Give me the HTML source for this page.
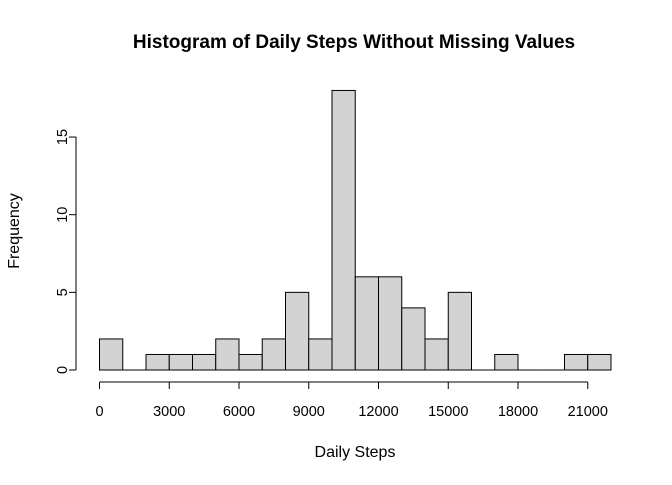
<!DOCTYPE html>
<html><head><meta charset="utf-8"><style>
body{margin:0;background:#fff;}
svg text{font-family:"Liberation Sans",Arial,sans-serif;fill:#000;}
</style></head><body>
<svg id="chart" width="672" height="480" viewBox="0 0 672 480">
<text x="354" y="48" text-anchor="middle" font-size="19" font-weight="bold">Histogram of Daily Steps Without Missing Values</text>
<text x="355" y="457" text-anchor="middle" font-size="16">Daily Steps</text>
<text x="0" y="0" transform="translate(19,231) rotate(-90)" text-anchor="middle" font-size="16">Frequency</text>
<g id="bars"></g><g id="axes"></g>
</svg>
<script>
const binStarts=[0,1000,2000,3000,4000,5000,6000,7000,8000,9000,10000,11000,12000,13000,14000,15000,16000,17000,18000,19000,20000,21000];
const binWidth=1000;
const counts=[2,0,1,1,1,2,1,2,5,2,18,6,6,4,2,5,0,1,0,0,1,1];
const xTicks=[0,3000,6000,9000,12000,15000,18000,21000];
const yTicks=[0,5,10,15];
const NS="http://www.w3.org/2000/svg";
function x(v){return 99.5+v*0.02325;}
function y(v){return 370-v*15.53;}
const bars=document.getElementById('bars'),axes=document.getElementById('axes');
function mk(tag,attrs,parent){const e=document.createElementNS(NS,tag);for(const k in attrs)e.setAttribute(k,attrs[k]);parent.appendChild(e);return e;}
binStarts.forEach((b,i)=>{
 let r;
 if(counts[i]===0){
  r=mk('line',{x1:x(b),x2:x(b+binWidth),y1:y(0),y2:y(0),stroke:'#000','stroke-width':1},bars);
 } else {
  r=mk('rect',{x:x(b),y:y(counts[i]),width:x(b+binWidth)-x(b),height:y(0)-y(counts[i]),fill:'#d3d3d3',stroke:'#000','stroke-width':1},bars);
 }
 
 
});
const xl=mk('line',{x1:x(xTicks[0]),x2:x(xTicks[xTicks.length-1]),y1:382,y2:382,stroke:'#000'},axes);


xTicks.forEach(t=>{
 mk('line',{x1:x(t),x2:x(t),y1:382,y2:389,stroke:'#000'},axes);
 const tx=mk('text',{x:x(t),y:416,'text-anchor':'middle','font-size':14.5},axes);tx.textContent=t;
 
 
});
const yl=mk('line',{x1:76,x2:76,y1:y(yTicks[0]),y2:y(yTicks[yTicks.length-1]),stroke:'#000'},axes);


yTicks.forEach(t=>{
 mk('line',{x1:69,x2:76,y1:y(t),y2:y(t),stroke:'#000'},axes);
 const tx=mk('text',{transform:`translate(67,${y(t)}) rotate(-90)`,'text-anchor':'middle','font-size':14.5},axes);tx.textContent=t;
 
 
});
</script>
</body></html>
